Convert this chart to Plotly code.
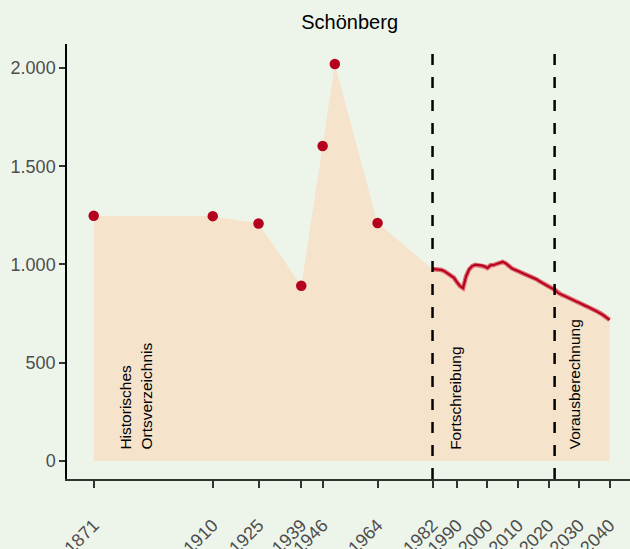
import plotly.graph_objects as go

# Historic census points (Historisches Ortsverzeichnis)
hist_years = [1871, 1910, 1925, 1939, 1946, 1950, 1964]
hist_values = [1248, 1246, 1209, 892, 1603, 2020, 1211]

# Annual series (Fortschreibung 1982-2022, Vorausberechnung 2023-2040)
line_years = list(range(1982, 2041))
line_values = [977, 976, 975, 972, 965, 955, 946, 933, 910, 890,
               880, 940, 975, 992, 998, 997, 996, 990, 982, 996,
               997, 1003, 1008, 1013, 1006, 992, 980, 973, 968, 960,
               952, 946, 940, 934, 925, 915, 905, 896, 887, 880,
               872, 856, 848, 842, 835, 826, 818, 812, 806, 797,
               790, 784, 776, 768, 761, 752, 742, 730, 718]

tick_years = [1871, 1910, 1925, 1939, 1946, 1964, 1982, 1990, 2000, 2010, 2020, 2030, 2040]
tick_labels = [str(y) for y in tick_years]
y_ticks = [0, 500, 1000, 1500, 2000]
y_tick_labels = ["0", "500", "1.000", "1.500", "2.000"]

section_breaks = [1982, 2022]
section_labels = ["Historisches<br>Ortsverzeichnis", "Fortschreibung", "Vorausberechnung"]
section_label_x = [1884.7, 1989.3, 2028.6]
section_label_y = [48, 48, 48]

title = "Schönberg"

BG = "#EDF5EB"
FILL = "#F5E3CC"
DARK = "#B5001E"
LIGHT = "#DC6A6E"
FONT = "Liberation Sans, Arial, sans-serif"

all_years = hist_years + line_years
all_values = hist_values + line_values

fig = go.Figure()

fig.add_trace(go.Scatter(
    x=all_years, y=all_values, mode="lines", fill="tozeroy",
    fillcolor=FILL, line=dict(width=0, color=FILL), hoverinfo="skip",
    showlegend=False))

fig.add_trace(go.Scatter(
    x=line_years, y=line_values, mode="lines",
    line=dict(color=LIGHT, width=4.5), showlegend=False))
fig.add_trace(go.Scatter(
    x=line_years, y=line_values, mode="lines",
    line=dict(color=DARK, width=2), showlegend=False))

fig.add_trace(go.Scatter(
    x=hist_years, y=hist_values, mode="markers",
    marker=dict(color=DARK, size=10.5, line=dict(width=0)), showlegend=False))

for xb in section_breaks:
    fig.add_shape(type="line", xref="x", yref="paper", x0=xb, x1=xb, y0=0, y1=1,
                  line=dict(color="black", width=2.5, dash="11px,12px"), layer="above")

for txt, xx, yy in zip(section_labels, section_label_x, section_label_y):
    fig.add_annotation(x=xx, y=yy, xref="x", yref="y", text=txt, showarrow=False,
                       textangle=-90, xanchor="center", yanchor="bottom", align="left",
                       font=dict(family=FONT, size=15.5, color="black"))

fig.update_layout(
    width=630, height=549,
    paper_bgcolor=BG, plot_bgcolor=BG,
    margin=dict(l=67, r=0, t=44, b=70),
    title=dict(text=title, x=0.555, xanchor="center", y=0.96, yanchor="middle",
               font=dict(family=FONT, size=20, color="black")),
    font=dict(family=FONT),
    showlegend=False,
)

fig.update_xaxes(
    range=[1862.25, 2046.7], tickmode="array", tickvals=tick_years, ticktext=tick_labels,
    tickangle=-45, ticks="outside", ticklen=7, tickwidth=2, tickcolor="#333333",
    tickfont=dict(family=FONT, size=18, color="#4D4D4D"),
    showline=True, linecolor="#333333", linewidth=1.5, showgrid=False, zeroline=False,
    automargin=False, ticklabelstandoff=20)

fig.update_yaxes(
    range=[-91.6, 2122], tickmode="array", tickvals=y_ticks, ticktext=y_tick_labels,
    ticks="outside", ticklen=6, tickwidth=2, tickcolor="#333333",
    tickfont=dict(family=FONT, size=18, color="#4D4D4D"),
    showline=True, linecolor="black", linewidth=1.5, showgrid=False, zeroline=False,
    automargin=False, ticklabelstandoff=0)

fig.write_html(
    "out.html",
    config={"displayModeBar": False},
    post_script="document.body.style.margin='0';document.body.style.background='#EDF5EB';")
